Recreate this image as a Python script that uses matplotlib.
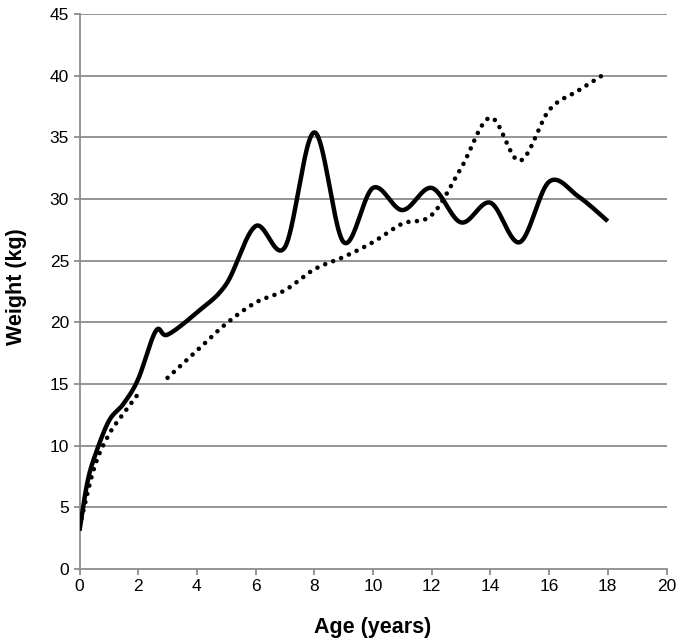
import numpy as np
import matplotlib.pyplot as plt

plt.rcParams['font.family'] = ['Liberation Sans', 'DejaVu Sans']

# Solid series: age (years) vs weight (kg)
solid_age = [0, 0.25, 0.5, 1, 1.5, 2, 2.6, 3, 4, 5, 6, 7, 8, 9, 10, 11, 12, 13, 14, 15, 16, 17, 18]
solid_wt = [3.1, 6.8, 9.0, 12.0, 13.4, 15.4, 19.3, 19.0, 20.8, 23.1, 27.8, 26.1, 35.4, 26.5,
            30.9, 29.1, 30.9, 28.1, 29.7, 26.5, 31.4, 30.2, 28.2]

# Dotted series, two separate pieces
dot1_age = [0, 0.5, 1, 1.5, 2]
dot1_wt = [3.4, 8.2, 10.9, 12.6, 14.2]
dot2_age = [3, 4, 5, 6, 7, 8, 9, 10, 11, 12, 13, 14, 15, 16, 17, 18]
dot2_wt = [15.5, 17.7, 19.9, 21.6, 22.6, 24.3, 25.3, 26.5, 28.0, 28.7, 32.5,
           36.6, 33.1, 37.2, 38.8, 40.3]


def smooth(xs, ys, n=40):
    """Excel style smoothed line: cardinal spline through the points."""
    p = np.column_stack([xs, ys]).astype(float)
    out = []
    for i in range(len(p) - 1):
        p0 = p[i - 1] if i > 0 else p[i]
        p1, p2 = p[i], p[i + 1]
        p3 = p[i + 2] if i + 2 < len(p) else p[i + 1]
        c1 = p1 + (p2 - p0) / 6
        c2 = p2 - (p3 - p1) / 6
        t = np.linspace(0, 1, n)[:, None]
        seg = ((1 - t) ** 3) * p1 + 3 * ((1 - t) ** 2) * t * c1 + 3 * (1 - t) * t ** 2 * c2 + t ** 3 * p2
        out.append(seg if i == 0 else seg[1:])
    seg = np.vstack(out)
    return seg[:, 0], seg[:, 1]


fig = plt.figure(figsize=(6.81, 6.41), dpi=100)
ax = fig.add_axes([79.5 / 681, 1 - 569 / 641, 587 / 681, 555 / 641])

grey = '#8c8c8c'
for y in range(5, 50, 5):
    ax.axhline(y, color=grey, lw=1.3, zorder=1)

x, y = smooth(solid_age, solid_wt)
ax.plot(x, y, color='black', lw=3.2, solid_capstyle='butt', solid_joinstyle='round', zorder=3)

dots = (0, (0.01, 1.85))
for a, w in [(dot1_age, dot1_wt), (dot2_age, dot2_wt)]:
    x, y = smooth(a, w)
    ax.plot(x, y, color='black', lw=3.3, linestyle=dots, dash_capstyle='round', zorder=3)

ax.set_xlim(0, 20)
ax.set_ylim(0, 45)
ax.set_xticks(range(0, 21, 2))
ax.set_yticks(range(0, 46, 5))
for s in ['top', 'right']:
    ax.spines[s].set_visible(False)
for s in ['left', 'bottom']:
    ax.spines[s].set_color(grey)
    ax.spines[s].set_linewidth(1.3)
ax.tick_params(colors=grey, width=1.3, length=4, labelcolor='black', labelsize=12.5)

fig.text(373 / 681, 1 - 627.5 / 641, 'Age (years)', fontsize=15.5, fontweight='bold',
         ha='center', va='center')
fig.text(17 / 681, 1 - 287 / 641, 'Weight (kg)', fontsize=15.5, fontweight='bold',
         ha='center', va='center', rotation=90)

fig.savefig('out.png', dpi=100)
